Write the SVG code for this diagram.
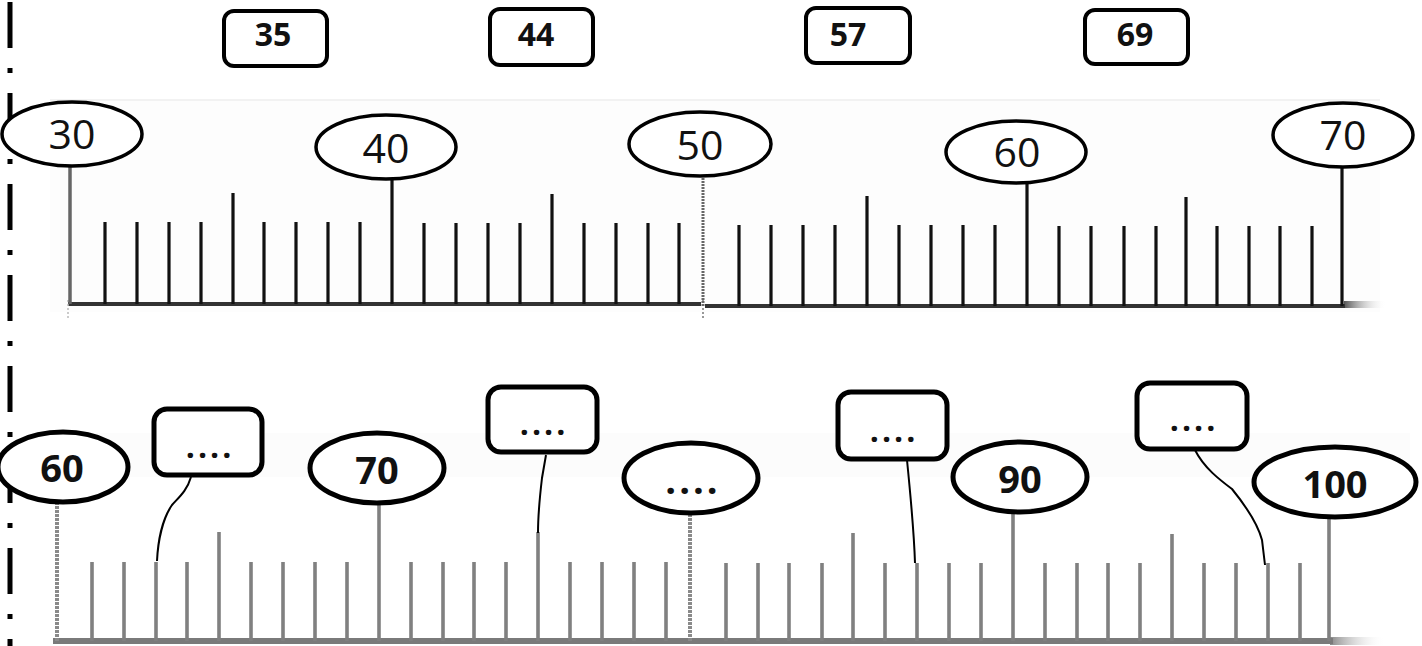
<svg xmlns="http://www.w3.org/2000/svg" width="1422" height="646" viewBox="0 0 1422 646">
<defs>
<linearGradient id="fadeTop" x1="0" x2="1" y1="0" y2="0"><stop offset="0" stop-color="#555"/><stop offset="1" stop-color="#fff" stop-opacity="0"/></linearGradient>
<linearGradient id="fadeBot" x1="0" x2="1" y1="0" y2="0"><stop offset="0" stop-color="#888"/><stop offset="1" stop-color="#fff" stop-opacity="0"/></linearGradient>
</defs>
<style>
.tk{stroke:#111;stroke-width:3.2;fill:none}
.tkb{stroke:#808080;stroke-width:3.6;fill:none}
.ell{fill:#fff;stroke:#000;stroke-width:3.5}
.ellb{fill:#fff;stroke:#000;stroke-width:5}
.box{fill:#fff;stroke:#000;stroke-width:4}
.boxb{fill:#fff;stroke:#000;stroke-width:5}
.tl{font-family:"Open Sans","Liberation Sans",sans-serif;font-size:41px;fill:#111;text-anchor:middle}
.bl{font-family:"Open Sans","Liberation Sans",sans-serif;font-size:38px;font-weight:bold;fill:#111;text-anchor:middle}
.bx{font-family:"Open Sans","Liberation Sans",sans-serif;font-size:32px;font-weight:bold;fill:#111;text-anchor:middle}
.dots{font-family:"Open Sans","Liberation Sans",sans-serif;font-size:32px;font-weight:bold;fill:#111;text-anchor:middle;letter-spacing:3px}
.con{fill:none;stroke:#000;stroke-width:2}
</style>
<rect x="0" y="0" width="1422" height="646" fill="#fff"/>
<rect x="50" y="99" width="1330" height="213" fill="#fdfdfd"/>
<line x1="50" y1="100" x2="1380" y2="100" stroke="#f2f2f2" stroke-width="2"/>
<rect x="50" y="433" width="1360" height="44" fill="#fcfcfc"/>
<line x1="10" y1="0" x2="10" y2="646" stroke="#000" stroke-width="5" stroke-dasharray="46 20 5 20" stroke-dashoffset="-2"/>

<g id="ruler-top">
<rect x="1344" y="301" width="42" height="7" fill="url(#fadeTop)"/>
<line x1="68" y1="304" x2="701" y2="304" stroke="#333" stroke-width="4"/>
<line x1="705" y1="306" x2="1345" y2="306" stroke="#333" stroke-width="4"/>
<line x1="68" y1="300" x2="68" y2="320" stroke="#bbb" stroke-width="1.5" stroke-dasharray="2 2"/>
<line x1="703" y1="300" x2="703" y2="320" stroke="#777" stroke-width="1.5" stroke-dasharray="2 2"/>
<path class="tk" d="M105 304V222M137 304V222M169 304V222M201 304V222M233 304V193M264 304V222M296 304V222M328 304V222M360 304V222
M424 304V223M456 304V223M488 304V223M520 304V223M552 304V194M584 304V223M616 304V223M648 304V223M679 304V223
M739 306V225M771 306V225M803 306V225M835 306V225M867 306V196M899 306V225M931 306V225M963 306V225M995 306V225
M1059 306V226M1091 306V226M1124 306V226M1156 306V226M1186 306V197M1217 306V226M1249 306V226M1280 306V226M1312 306V226"/>
<line x1="70" y1="304" x2="70" y2="166" stroke="#666" stroke-width="3.5"/>
<line x1="392" y1="304" x2="392" y2="178" class="tk"/>
<line x1="703" y1="306" x2="703" y2="176" stroke="#666" stroke-width="3" stroke-dasharray="2 1"/>
<line x1="1027" y1="306" x2="1027" y2="182" class="tk"/>
<line x1="1342" y1="306" x2="1342" y2="168" class="tk"/>
</g>

<g id="ruler-bottom">
<rect x="1330" y="637" width="55" height="8" fill="url(#fadeBot)"/>
<line x1="53" y1="641" x2="1333" y2="641" stroke="#7a7a7a" stroke-width="6"/>
<path class="tkb" d="M92 641V562M124 641V562M156 641V562M187 641V562M219 641V532M251 641V562M283 641V562M315 641V562M347 641V562
M411 641V562M443 641V562M474 641V562M506 641V562M538 641V532M570 641V562M602 641V562M634 641V562M666 641V562
M726 641V563M758 641V563M789 641V563M822 641V563M853 641V533M885 641V563M917 641V563M949 641V563M981 641V563
M1045 641V563M1077 641V563M1108 641V563M1140 641V563M1172 641V534M1204 641V563M1236 641V563M1268 641V563M1300 641V563"/>
<line x1="57" y1="641" x2="57" y2="503" stroke="#8a8a8a" stroke-width="4" stroke-dasharray="3 1"/>
<line x1="379" y1="641" x2="379" y2="502" class="tkb"/>
<line x1="690" y1="641" x2="690" y2="512" stroke="#8a8a8a" stroke-width="4" stroke-dasharray="3 1"/>
<line x1="1013" y1="641" x2="1013" y2="512" class="tkb"/>
<line x1="1329" y1="641" x2="1329" y2="517" class="tkb"/>
</g>

<g id="connectors">
<path class="con" d="M191 477C187 491 178 498 172 505C163 518 158 540 157 561"/>
<path class="con" d="M546 455L542 478C540 495 538 515 538 533"/>
<path class="con" d="M907 460C910 490 914 530 915 563"/>
<path class="con" d="M1195 450C1204 468 1220 480 1232 489C1245 505 1258 525 1262 540L1265 565"/>
</g>

<g id="label-30"><ellipse class="ell" cx="72" cy="134" rx="70" ry="32"/><text class="tl" x="72" y="149">30</text></g>
<g id="label-40"><ellipse class="ell" cx="386" cy="147" rx="70" ry="32"/><text class="tl" x="386" y="163">40</text></g>
<g id="label-50"><ellipse class="ell" cx="700" cy="144" rx="71" ry="32"/><text class="tl" x="700" y="160">50</text></g>
<g id="label-60"><ellipse class="ell" cx="1016" cy="152" rx="70" ry="31"/><text class="tl" x="1017" y="167">60</text></g>
<g id="label-70"><ellipse class="ell" cx="1343" cy="135" rx="70" ry="32"/><text class="tl" x="1343" y="150">70</text></g>

<g id="box-35"><rect class="box" x="224" y="11" width="103" height="55" rx="10"/><text class="bx" x="273" y="46">35</text></g>
<g id="box-44"><rect class="box" x="490" y="9" width="103" height="56" rx="10"/><text class="bx" x="536" y="46">44</text></g>
<g id="box-57"><rect class="box" x="806" y="8" width="104" height="55" rx="10"/><text class="bx" x="848" y="46">57</text></g>
<g id="box-69"><rect class="box" x="1085" y="10" width="103" height="54" rx="10"/><text class="bx" x="1135" y="46">69</text></g>

<g id="label-b60"><ellipse class="ellb" cx="63" cy="467" rx="65" ry="35"/><text class="bl" x="62" y="482">60</text></g>
<g id="label-b70"><ellipse class="ellb" cx="377" cy="468" rx="67" ry="35"/><text class="bl" x="377" y="484">70</text></g>
<g id="label-b80"><ellipse class="ellb" cx="691" cy="478" rx="67" ry="35"/><text class="bl" x="693" y="494" style="letter-spacing:3px">....</text></g>
<g id="label-b90"><ellipse class="ellb" cx="1020" cy="477" rx="67" ry="35"/><text class="bl" x="1020" y="493">90</text></g>
<g id="label-b100"><ellipse class="ellb" cx="1335" cy="482" rx="81" ry="35"/><text class="bl" x="1335" y="498">100</text></g>

<g id="box-b1"><rect class="boxb" x="154" y="409" width="108" height="66" rx="13"/><text class="dots" x="210" y="458">....</text></g>
<g id="box-b2"><rect class="boxb" x="488" y="387" width="109" height="65" rx="13"/><text class="dots" x="544" y="435">....</text></g>
<g id="box-b3"><rect class="boxb" x="838" y="392" width="109" height="67" rx="13"/><text class="dots" x="894" y="442">....</text></g>
<g id="box-b4"><rect class="boxb" x="1137" y="383" width="110" height="66" rx="13"/><text class="dots" x="1194" y="431">....</text></g>
</svg>
